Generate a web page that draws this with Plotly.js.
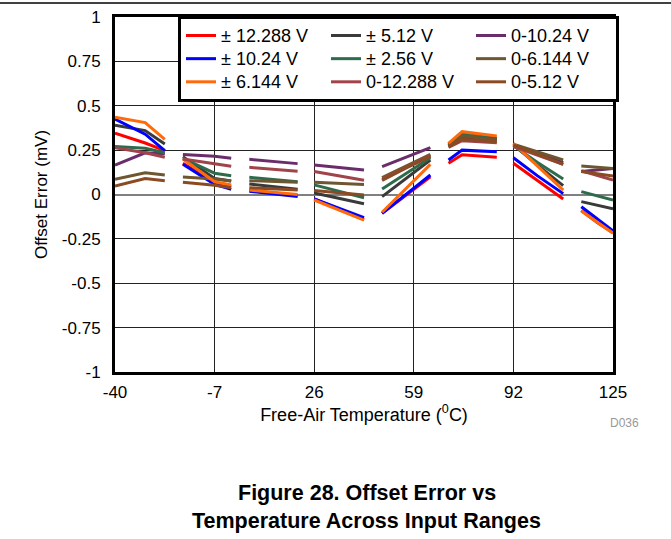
<!DOCTYPE html>
<html>
<head>
<meta charset="utf-8">
<script src="https://cdn.plot.ly/plotly-3.0.1.min.js"></script>
<style>html,body{margin:0;padding:0;background:#fff;}#chart{width:671px;height:539px;}</style>
</head>
<body>
<div id="chart"></div>
<script>
// Temperatures (°C); null separates the measurement segments
const temps = [-40, -30, -23.5, null, -17.5, -7, -1.5, null, 4.5, 12.5, 20.5, null,
  26, 34, 42.5, null, 48.5, 56.5, 64.5, null, 70.5, 75, 86.5, null,
  92, 100, 108.5, null, 114.5, 120, 125];

const seriesNames = ["± 12.288 V", "± 5.12 V", "0-10.24 V", "± 10.24 V", "± 2.56 V", "0-6.144 V", "± 6.144 V", "0-12.288 V", "0-5.12 V"];

const pm12288 = [0.345, 0.29, 0.247, null, 0.176, 0.066, 0.044, null, 0.022, 0.008, -0.006, null,
  -0.025, -0.08, -0.14, null, -0.106, -0.003, 0.10, null, 0.176, 0.224, 0.21, null,
  0.176, 0.08, -0.025, null, -0.09, -0.16, -0.215];
const pm1024 = [0.425, 0.34, 0.247, null, 0.17, 0.057, 0.029, null, 0.018, 0.003, -0.012, null,
  -0.025, -0.075, -0.13, null, -0.106, 0.002, 0.11, null, 0.194, 0.25, 0.241, null,
  0.207, 0.105, 0.005, null, -0.069, -0.14, -0.205];
const pm6144 = [0.435, 0.405, 0.31, null, 0.20, 0.072, 0.053, null, 0.025, 0.012, 0.0, null,
  -0.031, -0.085, -0.144, null, -0.1, 0.035, 0.17, null, 0.288, 0.354, 0.33, null,
  0.288, 0.16, 0.025, null, -0.093, -0.16, -0.218];
const pm512 = [0.39, 0.36, 0.285, null, 0.213, 0.09, 0.076, null, 0.059, 0.044, 0.029, null,
  0.008, -0.02, -0.052, null, -0.012, 0.09, 0.194, null, 0.285, 0.341, 0.317, null,
  0.28, 0.165, 0.05, null, -0.04, -0.06, -0.08];
const pm256 = [0.27, 0.26, 0.235, null, 0.204, 0.12, 0.106, null, 0.097, 0.085, 0.072, null,
  0.054, 0.02, -0.018, null, 0.031, 0.12, 0.207, null, 0.278, 0.34, 0.31, null,
  0.275, 0.18, 0.087, null, 0.016, -0.008, -0.031];
const u12288 = [0.264, 0.235, 0.21, null, 0.2, 0.175, 0.159, null, 0.153, 0.142, 0.131, null,
  0.129, 0.105, 0.08, null, 0.085, 0.15, 0.219, null, 0.266, 0.303, 0.292, null,
  0.27, 0.22, 0.17, null, 0.134, 0.108, 0.082];
const u1024 = [0.165, 0.235, 0.23, null, 0.226, 0.215, 0.204, null, 0.198, 0.186, 0.174, null,
  0.166, 0.152, 0.138, null, 0.157, 0.21, 0.264, null, 0.279, 0.322, 0.311, null,
  0.28, 0.23, 0.18, null, 0.129, 0.138, 0.147];
const u6144 = [0.086, 0.123, 0.11, null, 0.099, 0.087, 0.076, null, 0.078, 0.073, 0.069, null,
  0.069, 0.063, 0.057, null, 0.095, 0.16, 0.226, null, 0.273, 0.33, 0.307, null,
  0.283, 0.24, 0.195, null, 0.16, 0.153, 0.147];
const u512 = [0.048, 0.09, 0.078, null, 0.069, 0.052, 0.038, null, 0.038, 0.031, 0.025, null,
  0.022, 0.01, -0.003, null, 0.08, 0.15, 0.215, null, 0.269, 0.311, 0.297, null,
  0.28, 0.225, 0.17, null, 0.13, 0.117, 0.104];

const seriesValues = [pm12288, pm512, u1024, pm1024, pm256, u6144, pm6144, u12288, u512];
const seriesColors = ["#FF0000", "#3A3A3A", "#6B2C6B", "#0000FF", "#2E6B4C", "#6E5630", "#FF6A0A", "#A0434A", "#8A4A22"];

const xTicks = [-40, -7, 26, 59, 92, 125];
const yTicks = [-1, -0.75, -0.5, -0.25, 0, 0.25, 0.5, 0.75, 1];
const yTickText = ["-1", "-0.75", "-0.5", "-0.25", "0", "0.25", "0.5", "0.75", "1"];

const traces = seriesNames.map((n, i) => ({
  type: "scatter", mode: "lines",
  name: '<span style="font-size:18px">' + n + '</span>',
  x: temps, y: seriesValues[i],
  connectgaps: false,
  line: {color: seriesColors[i], width: 3}
}));

const F = "Liberation Sans, Arial, sans-serif";
const layout = {
  width: 671, height: 539,
  margin: {l: 115, r: 58, t: 17, b: 167},
  paper_bgcolor: "#fff", plot_bgcolor: "#fff",
  font: {family: F, color: "#000", size: 17},
  showlegend: true,
  legend: {
    orientation: "h", x: 0.1265, xanchor: "left", y: 1.003, yanchor: "top",
    bgcolor: "#fff", bordercolor: "#000", borderwidth: 3,
    font: {family: F, size: 15.5, color: "#000"},
    entrywidth: 100, entrywidthmode: "pixels", traceorder: "normal"
  },
  xaxis: {
    range: [-40, 125], tickvals: xTicks, ticktext: xTicks.map(String),
    showgrid: true, gridcolor: "#222", gridwidth: 1, zeroline: false,
    showline: true, linecolor: "#000", linewidth: 3, mirror: true,
    ticks: "outside", ticklen: 3, tickcolor: "rgba(0,0,0,0)",
    tickfont: {family: F, size: 17},
    title: {text: "Free-Air Temperature (<sup>0</sup>C)", font: {family: F, size: 18}, standoff: 2}
  },
  yaxis: {
    range: [-1, 1], tickvals: yTicks, ticktext: yTickText,
    showgrid: true, gridcolor: "#222", gridwidth: 1,
    zeroline: true, zerolinecolor: "#808080", zerolinewidth: 2,
    showline: true, linecolor: "#000", linewidth: 3, mirror: true,
    ticks: "outside", ticklen: 8, tickcolor: "rgba(0,0,0,0)",
    tickfont: {family: F, size: 17},
    title: {text: "Offset Error (mV)", font: {family: F, size: 17}, standoff: 10}
  },
  shapes: [{type: "line", xref: "paper", yref: "paper", x0: -0.231, x1: 1.1165, y0: 1.0394, y1: 1.0394,
    line: {color: "#000", width: 1.5}}],
  annotations: [
    {text: "D036", xref: "paper", yref: "paper", x: 1.024, y: -0.1437, xanchor: "center", yanchor: "middle",
      showarrow: false, font: {family: F, size: 12, color: "#999"}},
    {text: "<b>Figure 28. Offset Error vs</b>", xref: "paper", yref: "paper", x: 0.506, y: -0.341,
      xanchor: "center", yanchor: "middle", showarrow: false, font: {family: F, size: 21.5, color: "#000"}},
    {text: "<b>Temperature Across Input Ranges</b>", xref: "paper", yref: "paper", x: 0.506, y: -0.42,
      xanchor: "center", yanchor: "middle", showarrow: false, font: {family: F, size: 21.5, color: "#000"}}
  ]
};

Plotly.newPlot("chart", traces, layout, {displayModeBar: false, staticPlot: true});
</script>
</body>
</html>
